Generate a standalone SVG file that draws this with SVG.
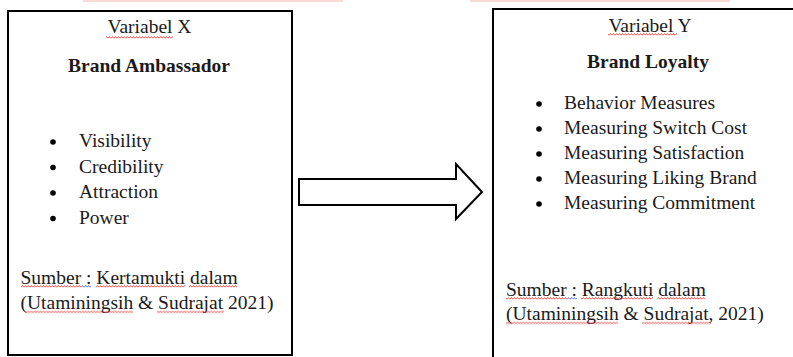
<svg xmlns="http://www.w3.org/2000/svg" width="793" height="357" viewBox="0 0 793 357">
<style>
.box{fill:#fff;stroke:#000;stroke-width:2}
.t{font-family:"Liberation Serif","Times New Roman",serif;font-size:19.5px;fill:#1a1a1a}
.b{font-weight:bold}
.c{text-anchor:middle}
.dot{fill:#000}
.red{fill:url(#wvr)}
.blue{fill:url(#wvb)}
</style>
<defs>
<pattern id="wvr" width="3" height="3" patternUnits="userSpaceOnUse">
<path d="M0 2.4 L1.5 0.6 L3 2.4" fill="none" stroke="#e02020" stroke-width="0.8"/>
</pattern>
<pattern id="wvb" width="3" height="3" patternUnits="userSpaceOnUse">
<path d="M0 2.4 L1.5 0.6 L3 2.4" fill="none" stroke="#3050d0" stroke-width="0.8"/>
</pattern>
</defs>
<rect width="793" height="357" fill="#fff"/>
<rect x="83" y="0" width="260" height="2" fill="#fbd9d9"/>
<rect x="470" y="0" width="260" height="2" fill="#fbd9d9"/>

<g id="node-x">
<rect class="box" x="8" y="11" width="284" height="344"/>
<text class="t c" x="149.5" y="33">Variabel X</text>
<text class="t b c" x="149" y="72">Brand Ambassador</text>
<circle class="dot" cx="53" cy="142" r="2.8"/>
<text class="t" x="79" y="147">Visibility</text>
<circle class="dot" cx="53" cy="167.5" r="2.8"/>
<text class="t" x="79" y="172.5">Credibility</text>
<circle class="dot" cx="53" cy="193" r="2.8"/>
<text class="t" x="79" y="198">Attraction</text>
<circle class="dot" cx="53" cy="218.5" r="2.8"/>
<text class="t" x="79" y="223.5">Power</text>
<text class="t" x="20.5" y="284">Sumber : Kertamukti dalam</text>
<text class="t" x="20.5" y="309">(Utaminingsih &amp; Sudrajat 2021)</text>
<rect class="red" x="106" y="0" width="67" height="3" transform="translate(0,36)"/>
<rect class="red" x="21" y="0" width="61" height="3" transform="translate(0,285)"/>
<rect class="blue" x="82" y="0" width="9" height="3" transform="translate(0,285)"/>
<rect class="red" x="96" y="0" width="89" height="3" transform="translate(0,285)"/>
<rect class="red" x="189" y="0" width="48" height="3" transform="translate(0,285)"/>
<rect class="red" x="25" y="0" width="108" height="3" transform="translate(0,310.5)"/>
<rect class="red" x="157" y="0" width="67" height="3" transform="translate(0,310.5)"/>
</g>

<g id="node-y">
<rect class="box" x="493" y="9" width="320" height="370"/>
<text class="t c" x="650" y="32">Variabel Y</text>
<text class="t b c" x="648" y="68">Brand Loyalty</text>
<circle class="dot" cx="539" cy="104" r="2.8"/>
<text class="t" x="564" y="109">Behavior Measures</text>
<circle class="dot" cx="539" cy="129" r="2.8"/>
<text class="t" x="564" y="134">Measuring Switch Cost</text>
<circle class="dot" cx="539" cy="154" r="2.8"/>
<text class="t" x="564" y="159">Measuring Satisfaction</text>
<circle class="dot" cx="539" cy="179" r="2.8"/>
<text class="t" x="564" y="184">Measuring Liking Brand</text>
<circle class="dot" cx="539" cy="204" r="2.8"/>
<text class="t" x="564" y="209">Measuring Commitment</text>
<text class="t" x="506" y="296">Sumber : Rangkuti dalam</text>
<text class="t" x="506" y="320">(Utaminingsih &amp; Sudrajat, 2021)</text>
<rect class="red" x="608" y="0" width="69" height="3" transform="translate(0,33)"/>
<rect class="red" x="506" y="0" width="62" height="3" transform="translate(0,297)"/>
<rect class="blue" x="568" y="0" width="9" height="3" transform="translate(0,297)"/>
<rect class="red" x="581" y="0" width="72" height="3" transform="translate(0,297)"/>
<rect class="red" x="657" y="0" width="48" height="3" transform="translate(0,297)"/>
<rect class="red" x="506" y="0" width="112" height="3" transform="translate(0,321.5)"/>
<rect class="red" x="642" y="0" width="69" height="3" transform="translate(0,321.5)"/>
</g>

<g id="connectors">
<polygon points="299,179 456,179 456,164 482,192 456,219 456,205 299,205" fill="#fff" stroke="#000" stroke-width="2" stroke-linejoin="miter"/>
</g>
</svg>
